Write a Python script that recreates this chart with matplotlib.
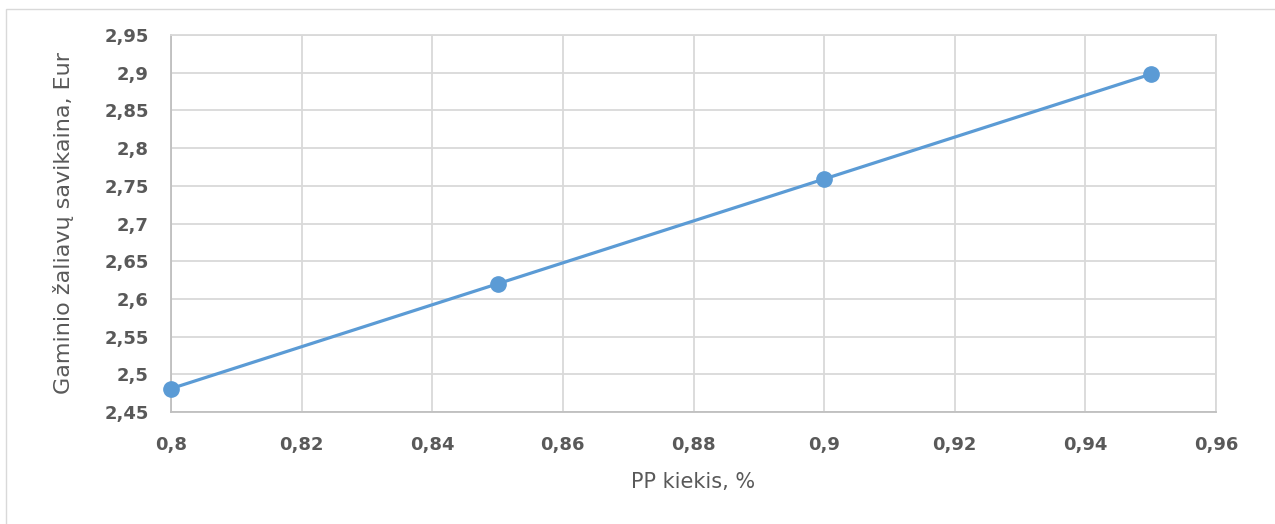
import matplotlib.pyplot as plt
from matplotlib.patches import Rectangle

# PP content vs raw material cost
pp_kiekis = [0.80, 0.85, 0.90, 0.95]
savikaina = [2.481, 2.620, 2.759, 2.898]

x_ticks = [0.80, 0.82, 0.84, 0.86, 0.88, 0.90, 0.92, 0.94, 0.96]
y_ticks = [2.45, 2.50, 2.55, 2.60, 2.65, 2.70, 2.75, 2.80, 2.85, 2.90, 2.95]


def comma(v):
    s = f"{v:.2f}".rstrip("0").rstrip(".")
    return s.replace(".", ",")


text_col = "#595959"
grid_col = "#d9d9d9"

fig = plt.figure(figsize=(12.75, 5.24), dpi=100)
ax = fig.add_axes([171 / 1275, 1 - 412 / 524, (1216 - 171) / 1275, (412 - 35) / 524])

# outer chart border (right and bottom edges run off the image)
fig.patches.append(Rectangle((6 / 1275, -10 / 524), 1290 / 1275, 525 / 524,
                             transform=fig.transFigure, fill=False,
                             edgecolor=grid_col, linewidth=1))

ax.plot(pp_kiekis, savikaina, color="#5B9BD5", linewidth=2.3,
        marker="o", markersize=11, zorder=3, clip_on=False)

ax.set_xlim(0.80, 0.96)
ax.set_ylim(2.45, 2.95)
ax.set_xticks(x_ticks)
ax.set_yticks(y_ticks)
ax.set_xticklabels([comma(v) for v in x_ticks])
ax.set_yticklabels([comma(v) for v in y_ticks])

ax.grid(True, color=grid_col, linewidth=1.3)
ax.set_axisbelow(True)
for side in ["top", "right", "left", "bottom"]:
    ax.spines[side].set_color(grid_col)
    ax.spines[side].set_linewidth(1.3)
ax.spines["left"].set_color("#bfbfbf")
ax.spines["bottom"].set_color("#bfbfbf")

ax.tick_params(length=0, labelsize=13, labelcolor=text_col)
ax.tick_params(axis="y", pad=16)
ax.tick_params(axis="x", pad=17)
for lbl in ax.get_xticklabels() + ax.get_yticklabels():
    lbl.set_fontweight("bold")

ax.set_xlabel("PP kiekis, %", fontsize=15, color=text_col, labelpad=13)
ax.set_ylabel("Gaminio žaliavų savikaina, Eur", fontsize=16, color=text_col, labelpad=22)

fig.savefig("out.png", dpi=100)
